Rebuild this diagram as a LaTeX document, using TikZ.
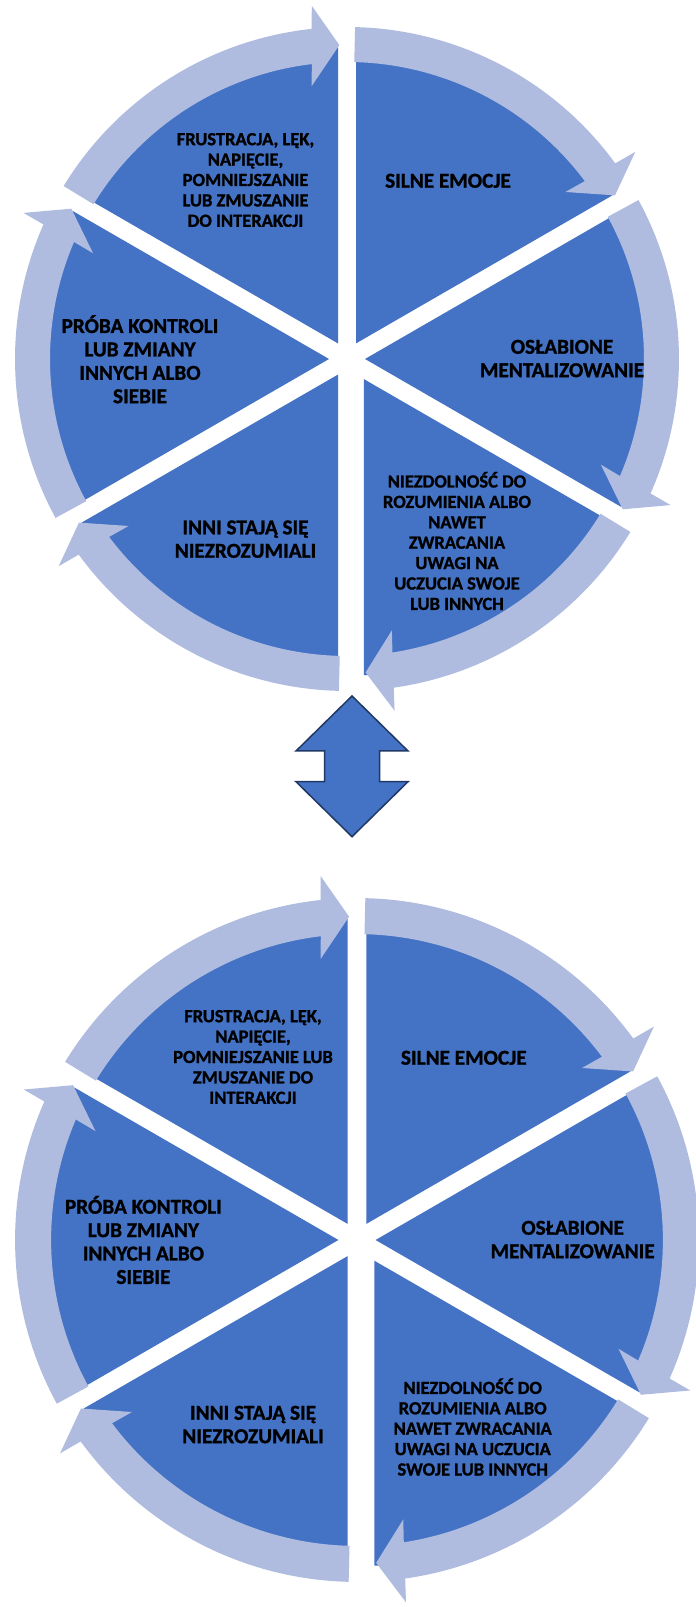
\documentclass[tikz,border=0pt]{standalone}
\usepackage{fontspec}
\setmainfont{Carlito}[BoldFeatures={FakeBold=1.2}]
\definecolor{pieblue}{HTML}{4472C4}
\definecolor{ringblue}{HTML}{AFBCDF}
\definecolor{darkline}{HTML}{203864}
\tikzset{
  piece/.style={fill=pieblue},
  ringarrow/.style={fill=ringblue},
  lbl/.style={font=\bfseries\fontsize{21.2}{23.4}\selectfont, align=center, text=black,
    inner sep=0pt, execute at begin node=\strut, execute at end node=\strut, yshift=-2pt},
  lblsmall/.style={lbl, font=\bfseries\fontsize{18.5}{20.4}\selectfont},
  dblarrow/.style={fill=pieblue, draw=darkline, line width=1.5pt, line join=miter},
}
% \a = clockwise boundary, \e = extra shift of slice along -30 deg, \h = extra head rotation
\newcommand\mysegcycle{%
  \foreach \a/\e in {30/0,-30/0,-90/9,-150/0,150/0,90/0}{%
    \fill[piece] ($({\a+30}:18)+(-30:\e)$) ++(\a:296) arc[start angle=\a, end angle=\a+60, radius=296]
      -- ($({\a+30}:18)+(-30:\e)$) -- cycle;
  }%
  \foreach \a/\h in {30/0,-30/0,-90/2,-150/0,150/0,90/0}{%
    \pgfmathsetmacro\tl{\a+60-1.4}%
    \pgfmathsetmacro\b{\a+\h}%
    \fill[ringarrow] (\tl:332) arc[start angle=\tl, end angle=\b+6.1, radius=332]
      -- ({\b+5.7}:355) -- ({\b+1.4}:314) -- ({\b+7.4}:275) -- ({\b+6.8}:297)
      arc[start angle=\b+6.8, end angle=\tl, radius=297] -- cycle;
  }%
}
\usetikzlibrary{calc}
\begin{document}
\begin{tikzpicture}[x=1pt,y=1pt]
\useasboundingbox (0,0) rectangle (696,1607);
\fill[white] (0,0) rectangle (696,1607);
% top cycle
\begin{scope}[shift={(347,1248)}]
  \mysegcycle
\end{scope}
% bottom cycle
\begin{scope}[shift={(357,367)}, scale=1.03]
  \mysegcycle
\end{scope}
% double arrow
\draw[dblarrow] (352,911) -- (408,856) -- (379.5,856) -- (379.5,825.3) -- (408,825.3)
  -- (352,770.3) -- (296,825.3) -- (324.5,825.3) -- (324.5,856) -- (296,856) -- cycle;
% top labels
\node[lblsmall] (t1) at (245.5,1426) {FRUSTRACJA, LĘK,\\NAPIĘCIE,\\POMNIEJSZANIE\\LUB ZMUSZANIE\\DO INTERAKCJI};
\node[lbl] (t2) at (448,1426) {SILNE EMOCJE};
\node[lbl] (t3) at (562,1247) {OSŁABIONE\\MENTALIZOWANIE};
\node[lblsmall] (t4) at (457,1065) {NIEZDOLNOŚĆ DO\\ROZUMIENIA ALBO\\NAWET\\ZWRACANIA\\UWAGI NA\\UCZUCIA SWOJE\\LUB INNYCH};
\node[lbl] (t5) at (245.5,1066.4) {INNI STAJĄ SIĘ\\NIEZROZUMIALI};
\node[lbl] (t6) at (140,1246.3) {PRÓBA KONTROLI\\LUB ZMIANY\\INNYCH ALBO\\SIEBIE};
% bottom labels
\node[lblsmall] (b1) at (253,549) {FRUSTRACJA, LĘK,\\NAPIĘCIE,\\POMNIEJSZANIE LUB\\ZMUSZANIE DO\\INTERAKCJI};
\node[lbl] (b2) at (463.8,549) {SILNE EMOCJE};
\node[lbl] (b3) at (572.6,366) {OSŁABIONE\\MENTALIZOWANIE};
\node[lblsmall] (b4) at (472.7,179) {NIEZDOLNOŚĆ DO\\ROZUMIENIA ALBO\\NAWET ZWRACANIA\\UWAGI NA UCZUCIA\\SWOJE LUB INNYCH};
\node[lbl] (b5) at (253,181) {INNI STAJĄ SIĘ\\NIEZROZUMIALI};
\node[lbl] (b6) at (143.4,365.6) {PRÓBA KONTROLI\\LUB ZMIANY\\INNYCH ALBO\\SIEBIE};
\end{tikzpicture}
\end{document}
